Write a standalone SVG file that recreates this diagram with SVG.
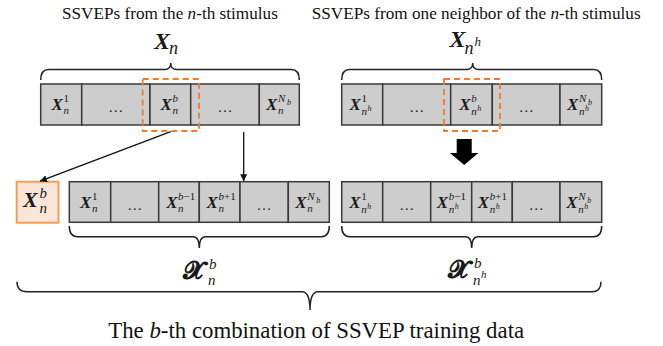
<svg xmlns="http://www.w3.org/2000/svg" width="663" height="346" viewBox="0 0 663 346">
<style>
.t{font-family:"Liberation Serif",serif;fill:#111}
.X{font-family:"Liberation Serif",serif;font-style:italic;font-weight:bold;font-size:17px;fill:#1a1a1a}
.s{font-family:"Liberation Serif",serif;font-style:italic;font-size:11px;fill:#1a1a1a}
.ss{font-family:"Liberation Serif",serif;font-style:italic;font-size:8px;fill:#1a1a1a}
.up{font-style:normal}
.dots{font-family:"Liberation Serif",serif;font-size:15px;fill:#222;text-anchor:middle}
.cell{fill:#cdcdcd;stroke:#3a3a3a;stroke-width:1.5}
.brace{fill:none;stroke:#222;stroke-width:1.5}
.dash{fill:none;stroke:#ED7D31;stroke-width:1.8;stroke-dasharray:6 4}
.arr{stroke:#111;stroke-width:1.3;fill:none;marker-end:url(#ah)}
.SX{font-family:"DejaVu Serif","Liberation Serif",serif;font-weight:bold;font-size:25px;fill:#1a1a1a}
</style>
<defs>
<marker id="ah" viewBox="0 0 10 10" refX="10" refY="5" markerWidth="7" markerHeight="7" markerUnits="userSpaceOnUse" orient="auto">
<path d="M0,0 L10,5 L0,10 z" fill="#111"/>
</marker>
</defs>

<text class="t" x="62" y="18.5" style="font-size:17.2px">SSVEPs from the <tspan font-style="italic">n</tspan>-th stimulus</text>
<text class="t" x="311.7" y="18.5" style="font-size:17.2px">SSVEPs from one neighbor of the <tspan font-style="italic">n</tspan>-th stimulus</text>
<text class="t" x="108.3" y="337.7" style="font-size:22.8px">The <tspan font-style="italic">b</tspan>-th combination of SSVEP training data</text>

<g id="braces">
<path class="brace" d="M40.7,80 Q40.7,69.5 48.7,69.5 L164.7,69.5 Q170.7,69.5 170.7,63 Q170.7,69.5 176.7,69.5 L291.3,69.5 Q299.3,69.5 299.3,80"/>
<path class="brace" d="M341.7,80 Q341.7,69.5 349.7,69.5 L466.7,69.5 Q472.7,69.5 472.7,63 Q472.7,69.5 478.7,69.5 L593.7,69.5 Q601.7,69.5 601.7,80"/>
<path class="brace" d="M69.3,226 Q69.3,236.7 77.3,236.7 L193.3,236.7 Q199.3,236.7 199.3,248 Q199.3,236.7 205.3,236.7 L321.3,236.7 Q329.3,236.7 329.3,226"/>
<path class="brace" d="M341.7,226 Q341.7,236.7 349.7,236.7 L465.7,236.7 Q471.7,236.7 471.7,248 Q471.7,236.7 477.7,236.7 L593.7,236.7 Q601.7,236.7 601.7,226"/>
<path class="brace" d="M17,281.7 Q17,291.7 27,291.7 L302,291.7 Q310,291.7 310,310 Q310,291.7 318,291.7 L592,291.7 Q601,291.7 601,281.7"/>
</g>

<g id="label-Xn">
<text class="X" x="154" y="49" style="font-size:24px">X</text>
<text class="s" x="169" y="54" style="font-size:18px">n</text>
</g>
<g id="label-Xnh">
<text class="X" x="449.5" y="47" style="font-size:24px">X</text>
<text class="s" x="464.5" y="54" style="font-size:18px">n</text>
<text class="s" x="474.5" y="46" style="font-size:13px">h</text>
</g>

<g id="row-Xn">
<rect class="cell" x="40.7" y="84" width="41" height="41"/>
<rect class="cell" x="81.7" y="84" width="68.3" height="41"/>
<rect class="cell" x="150" y="84" width="40.7" height="41"/>
<rect class="cell" x="190.7" y="84" width="68.6" height="41"/>
<rect class="cell" x="259.3" y="84" width="40" height="41"/>
<text class="X" x="51.5" y="110">X</text><text class="s up" x="63.5" y="102">1</text><text class="s" x="63.5" y="114">n</text>
<text class="dots" x="115.8" y="112">…</text>
<text class="X" x="160.5" y="110">X</text><text class="s" x="172.5" y="102">b</text><text class="s" x="172.5" y="114">n</text>
<text class="dots" x="225" y="112">…</text>
<text class="X" x="266" y="110">X</text><text class="s" x="278" y="102">N</text><text class="ss" x="287" y="105">b</text><text class="s" x="278" y="114">n</text>
</g>

<g id="row-Xnh">
<rect class="cell" x="341.7" y="84" width="41" height="41"/>
<rect class="cell" x="382.7" y="84" width="68" height="41"/>
<rect class="cell" x="450.7" y="84" width="41.6" height="41"/>
<rect class="cell" x="492.3" y="84" width="67.7" height="41"/>
<rect class="cell" x="560" y="84" width="41.7" height="41"/>
<text class="X" x="349.5" y="110">X</text><text class="s up" x="361.5" y="102">1</text><text class="s" x="361.5" y="115">n</text><text class="ss" x="367.5" y="111">h</text>
<text class="dots" x="416.7" y="112">…</text>
<text class="X" x="459.3" y="110">X</text><text class="s" x="471.3" y="102">b</text><text class="s" x="471.3" y="115">n</text><text class="ss" x="477.3" y="111">h</text>
<text class="dots" x="526.2" y="112">…</text>
<text class="X" x="567" y="110">X</text><text class="s" x="579" y="102">N</text><text class="ss" x="588" y="105">b</text><text class="s" x="579" y="115">n</text><text class="ss" x="585" y="111">h</text>
</g>

<g id="dashed-selections">
<rect class="dash" x="142.7" y="79" width="56.3" height="52"/>
<rect class="dash" x="444" y="79" width="56" height="52"/>
</g>

<g id="node-Xnb">
<rect x="16.7" y="181.7" width="41.8" height="41" fill="#FBE5D6" stroke="#F19F5E" stroke-width="2"/>
<text class="X" x="23" y="207" style="font-size:22px">X</text>
<text class="s" x="39.5" y="198" style="font-size:15px">b</text>
<text class="s" x="39.5" y="213" style="font-size:15px">n</text>
</g>

<g id="row-Xn-b">
<rect class="cell" x="69.3" y="181.7" width="41.4" height="40.6"/>
<rect class="cell" x="110.7" y="181.7" width="48" height="40.6"/>
<rect class="cell" x="158.7" y="181.7" width="40.6" height="40.6"/>
<rect class="cell" x="199.3" y="181.7" width="40.7" height="40.6"/>
<rect class="cell" x="240" y="181.7" width="48.3" height="40.6"/>
<rect class="cell" x="288.3" y="181.7" width="41" height="40.6"/>
<text class="X" x="80" y="208">X</text><text class="s up" x="92" y="200">1</text><text class="s" x="92" y="212">n</text>
<text class="dots" x="134.7" y="210">…</text>
<text class="X" x="166.2" y="208">X</text><text class="s" x="178" y="200">b<tspan class="up">−1</tspan></text><text class="s" x="178" y="212">n</text>
<text class="X" x="206.5" y="208">X</text><text class="s" x="218.5" y="200">b<tspan class="up">+1</tspan></text><text class="s" x="218.5" y="212">n</text>
<text class="dots" x="264.1" y="210">…</text>
<text class="X" x="295.3" y="208">X</text><text class="s" x="307.3" y="200">N</text><text class="ss" x="316.3" y="203">b</text><text class="s" x="307.3" y="212">n</text>
</g>

<g id="row-Xnh-b">
<rect class="cell" x="341.7" y="181.7" width="41" height="40.6"/>
<rect class="cell" x="382.7" y="181.7" width="48" height="40.6"/>
<rect class="cell" x="430.7" y="181.7" width="41" height="40.6"/>
<rect class="cell" x="471.7" y="181.7" width="40.6" height="40.6"/>
<rect class="cell" x="512.3" y="181.7" width="47.7" height="40.6"/>
<rect class="cell" x="560" y="181.7" width="41.7" height="40.6"/>
<text class="X" x="349.3" y="208">X</text><text class="s up" x="361.3" y="200">1</text><text class="s" x="361.3" y="213">n</text><text class="ss" x="367.3" y="209">h</text>
<text class="dots" x="406.7" y="210">…</text>
<text class="X" x="436.8" y="208">X</text><text class="s" x="448.8" y="200">b<tspan class="up">−1</tspan></text><text class="s" x="448.8" y="213">n</text><text class="ss" x="454.8" y="209">h</text>
<text class="X" x="477.8" y="208">X</text><text class="s" x="489.8" y="200">b<tspan class="up">+1</tspan></text><text class="s" x="489.8" y="213">n</text><text class="ss" x="495.8" y="209">h</text>
<text class="dots" x="536.2" y="210">…</text>
<text class="X" x="566.2" y="208">X</text><text class="s" x="578.2" y="200">N</text><text class="ss" x="587.2" y="203">b</text><text class="s" x="578.2" y="213">n</text><text class="ss" x="584.2" y="209">h</text>
</g>

<g id="label-calXnb">
<text class="SX" x="183" y="279">𝓧</text>
<text class="s" x="209" y="269" style="font-size:15px">b</text>
<text class="s" x="208" y="285" style="font-size:15px">n</text>
</g>
<g id="label-calXnhb">
<text class="SX" x="448" y="278">𝓧</text>
<text class="s" x="474" y="268" style="font-size:15px">b</text>
<text class="s" x="473" y="285" style="font-size:15px">n</text>
<text class="s" x="481" y="278" style="font-size:11px">h</text>
</g>

<g id="connectors">
<line class="arr" x1="170.7" y1="131.7" x2="40" y2="181.2"/>
<line class="arr" x1="243.7" y1="132" x2="243.7" y2="181.2"/>
<polygon points="456.7,139 471.7,139 471.7,153 478.3,153 464.2,165 450,153 456.7,153" fill="#000"/>
</g>
</svg>
